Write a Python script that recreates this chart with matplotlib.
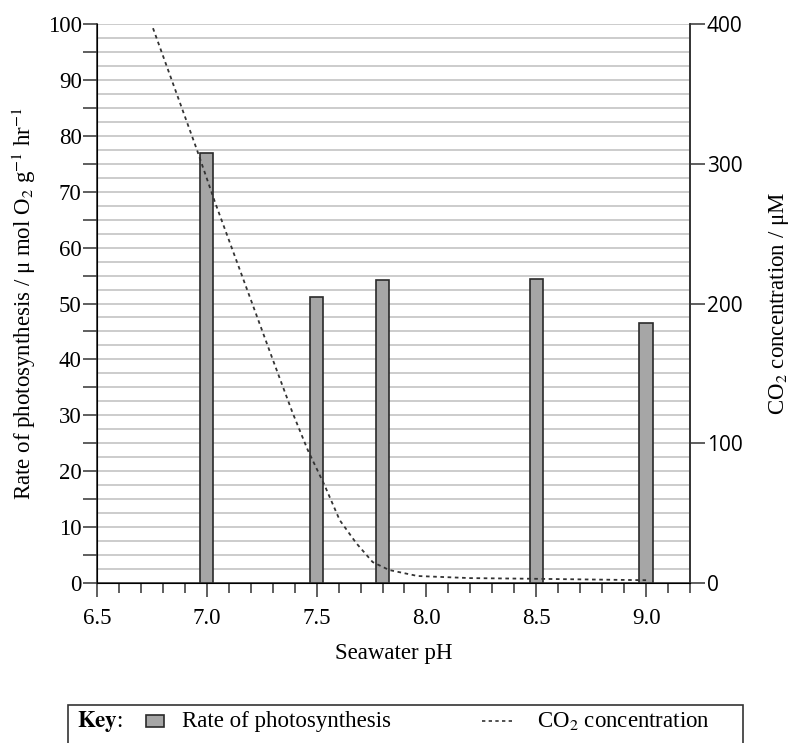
import matplotlib.pyplot as plt
import matplotlib.patches as patches
from matplotlib.lines import Line2D
from matplotlib.ticker import MultipleLocator

plt.rcParams['font.family'] = ['Liberation Serif', 'DejaVu Serif']
plt.rcParams['mathtext.fontset'] = 'stix'

# data
ph_bars = [7.0, 7.5, 7.8, 8.5, 9.0]
rate = [77, 51.2, 54.2, 54.3, 46.5]

ph_co2 = [6.755, 6.84, 6.955, 7.036, 7.195, 7.30, 7.39, 7.46, 7.536, 7.605,
          7.68, 7.755, 7.83, 7.96, 8.2, 8.5, 9.0]
co2 = [397, 360, 310, 273, 205, 160, 122, 95, 70, 45,
       28.6, 15, 9.3, 5, 3.5, 3, 2]

x_ticks = [6.5, 7.0, 7.5, 8.0, 8.5, 9.0]

FS = 16.5

fig = plt.figure(figsize=(7.92, 7.43), dpi=100)
ax = fig.add_axes([97 / 792, 1 - 583 / 743, (690 - 97) / 792, (583 - 24) / 743])

ax.bar(ph_bars, rate, width=0.06, color='#a6a6a6', edgecolor='#2a2a2a', linewidth=1.2, zorder=3)

ax.set_xlim(6.5, 9.2)
ax.set_ylim(0, 100)
ax.set_xticks(x_ticks)
ax.set_xticklabels([f'{v:.1f}' for v in x_ticks])
ax.xaxis.set_minor_locator(MultipleLocator(0.1))
ax.yaxis.set_major_locator(MultipleLocator(10))
ax.yaxis.set_minor_locator(MultipleLocator(5))

# horizontal grid every 2.5
for g in [i * 2.5 for i in range(1, 41)]:
    ax.axhline(g, color='#c8c8c8', linewidth=1.3, zorder=1)

ax.tick_params(axis='both', which='major', labelsize=FS, color='#333333', width=1.1)
ax.tick_params(axis='x', which='major', length=10, pad=8)
ax.tick_params(axis='x', which='minor', length=7, width=1.1, color='#333333')
ax.tick_params(axis='y', which='major', length=10, pad=1)
ax.tick_params(axis='y', which='minor', length=10, width=1.1, color='#333333')

ax.spines['top'].set_visible(False)
for s in ['left', 'bottom', 'right']:
    ax.spines[s].set_color('#333333')
    ax.spines[s].set_linewidth(1.2)

ax.set_xlabel('Seawater pH', fontsize=FS, labelpad=10)
ax.set_ylabel(r'Rate of photosynthesis / μ mol O$_2$ g$^{-1}$ hr$^{-1}$', fontsize=FS, labelpad=7)

ax2 = ax.twinx()
ax2.set_ylim(0, 400)
ax2.set_yticks([0, 100, 200, 300, 400])
ax2.plot(ph_co2, co2, color='#333333', linewidth=1.3, linestyle=(0, (2, 2)), zorder=4)
ax2.tick_params(axis='y', labelsize=15, length=11, width=1.1, color='#333333', pad=1)
for lbl in ax2.get_yticklabels():
    lbl.set_fontfamily('Open Sans')
ax2.spines['top'].set_visible(False)
ax2.spines['right'].set_color('#333333')
ax2.spines['right'].set_linewidth(1.2)
ax2.set_ylabel(r'CO$_2$ concentration / μM', fontsize=FS, labelpad=18)

# key box at the bottom
box = patches.Rectangle((68 / 792, -0.01), (743 - 68) / 792, 1 - 705 / 743 + 0.01,
                        transform=fig.transFigure, fill=False, edgecolor='#333333',
                        linewidth=1.2, clip_on=False)
fig.add_artist(box)
ky = 1 - 721 / 743
fig.text(77 / 792, ky, r'$\mathbf{Key}$:', fontsize=FS, va='center')
fig.add_artist(patches.Rectangle((146 / 792, ky - 6 / 743), 18 / 792, 12 / 743,
                                 transform=fig.transFigure, facecolor='#a6a6a6',
                                 edgecolor='#2a2a2a', linewidth=1.2))
fig.text(182 / 792, ky, 'Rate of photosynthesis', fontsize=FS, va='center')
fig.add_artist(Line2D([482 / 792, 512 / 792], [ky, ky], transform=fig.transFigure,
                      color='#333333', linewidth=1.2, linestyle=(0, (2, 2))))
fig.text(537 / 792, ky, r'CO$_2$ concentration', fontsize=FS, va='center')

fig.savefig('out.png', dpi=100)
